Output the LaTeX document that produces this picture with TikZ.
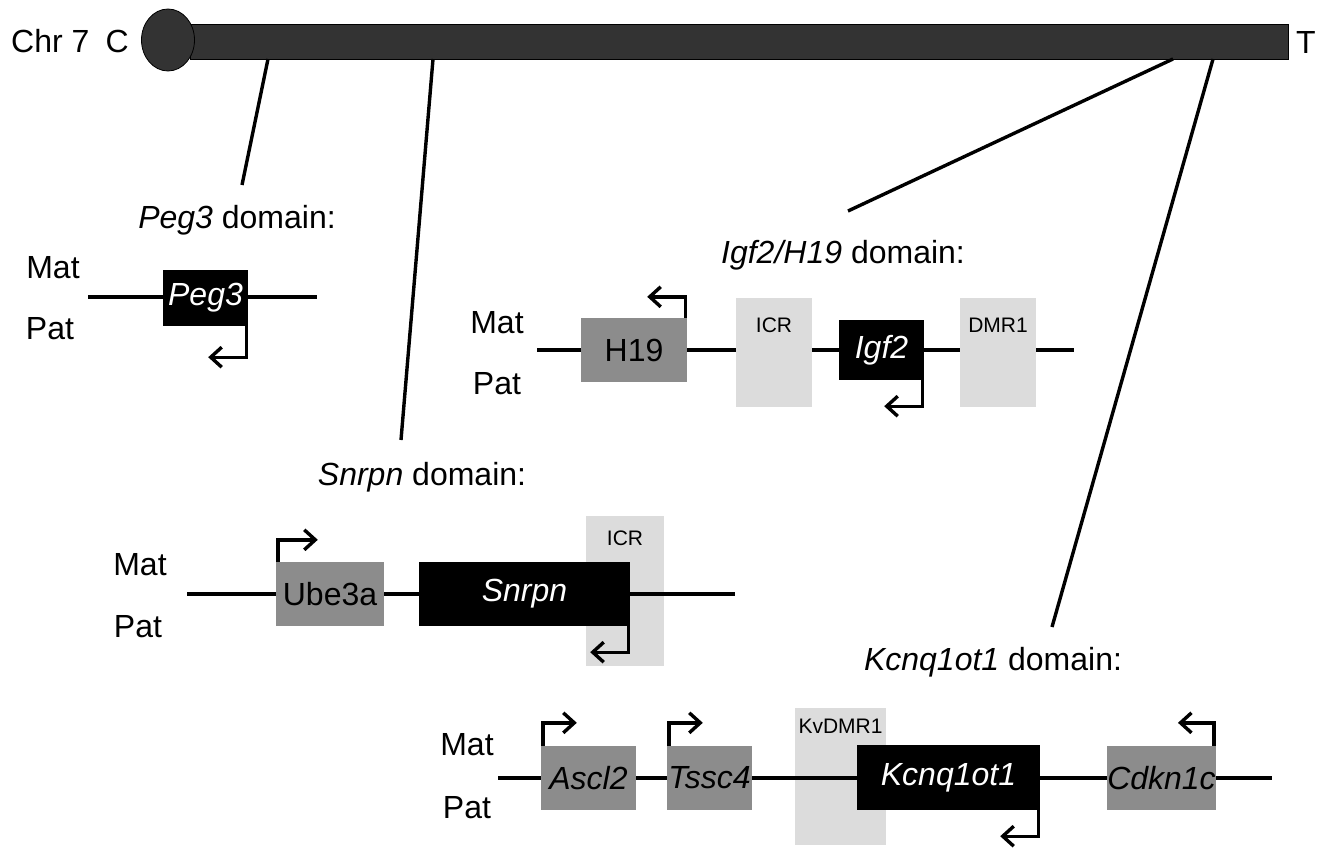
\documentclass[tikz,border=0pt]{standalone}
\usepackage{fontspec}
\setmainfont{Liberation Sans}
\usetikzlibrary{arrows.meta,shapes.geometric}
\definecolor{chrom}{HTML}{333333}
\definecolor{midgray}{HTML}{8C8C8C}
\definecolor{lightgray}{HTML}{DCDCDC}
\tikzset{
  big/.style={font=\fontsize{32}{38}\selectfont, inner sep=0pt},
  small/.style={font=\fontsize{21}{25}\selectfont, inner sep=0pt},
  genebox/.style={rectangle, inner sep=0pt, font=\fontsize{32}{38}\selectfont},
  imprinted/.style={genebox, fill=black, text=white, font=\fontsize{32}{38}\selectfont\itshape},
  expressed/.style={genebox, fill=midgray, text=black},
  expressedit/.style={expressed, font=\fontsize{32}{38}\selectfont\itshape},
  regbox/.style={rectangle, inner sep=0pt, fill=lightgray},
  locus/.style={line width=3.4pt},
  link/.style={line width=3.4pt},
  tss/.style={line width=3.4pt, -{Straight Barb[length=11pt,width=20pt,line width=3.4pt]}},
}
\begin{document}
\begin{tikzpicture}[x=1pt,y=-1pt]
\useasboundingbox (0,0) rectangle (1321,849);
% chromosome
\node[rectangle, fill=chrom, draw=black, line width=0.8pt, minimum width=1098pt, minimum height=35pt, inner sep=0pt] (bar) at (739,41.5) {};
\node[ellipse, fill=chrom, draw=black, line width=0.8pt, minimum width=53pt, minimum height=62pt, inner sep=0pt] (cen) at (168,40) {};
\node[big, anchor=west] (chr) at (11,41) {Chr 7};
\node[big, anchor=east] (cl) at (129,41) {C};
\node[big, anchor=west] (tl) at (1296,42) {T};

% domain titles
\node[big, anchor=base] (tpeg) at (237,228) {\itshape Peg3\upshape{} domain:};
\node[big, anchor=base] (tigf) at (843,263) {\itshape Igf2/H19\upshape{} domain:};
\node[big, anchor=base] (tsnr) at (422,485) {\itshape Snrpn\upshape{} domain:};
\node[big, anchor=base] (tkcn) at (993,670) {\itshape Kcnq1ot1\upshape{} domain:};

% links from chromosome
\coordinate (b1) at (268,59);
\coordinate (b2) at (433,59);
\coordinate (b3) at (1173,59);
\coordinate (b4) at (1213,59);
\coordinate (e1) at (242,185);
\coordinate (e2) at (401,440);
\coordinate (e3) at (848,211);
\coordinate (e4) at (1052,627);
\draw[link] (b1) -- (e1);
\draw[link] (b2) -- (e2);
\draw[link] (b3) -- (e3);
\draw[link] (b4) -- (e4);

% ---------- Peg3 ----------
\node[big] (m1) at (53,268) {Mat};
\node[big] (p1) at (50,329) {Pat};
\coordinate (l1a) at (88,297);
\coordinate (l1b) at (317,297);
\draw[locus] (l1a) -- (l1b);
\node[imprinted, minimum width=85pt, minimum height=56pt] (peg) at (205.5,298) {Peg3};
\draw[tss] (peg.south east) ++(-2,0) -- ++(0,31) -- ++(-38,0);

% ---------- Igf2/H19 ----------
\node[big] (m2) at (497,323) {Mat};
\node[big] (p2) at (497,384) {Pat};
\coordinate (l2a) at (537,350);
\coordinate (l2b) at (1074,350);
\draw[locus] (l2a) -- (l2b);
\node[regbox, minimum width=76pt, minimum height=109pt] (icr1) at (774,352.5) {};
\node[small, below=20pt] at (icr1.north) (icr1t) {ICR};
\node[regbox, minimum width=76pt, minimum height=109pt] (dmr) at (998,352.5) {};
\node[small, below=20pt] at (dmr.north) (dmrt) {DMR1};
\node[expressed, minimum width=106pt, minimum height=64pt] (h19) at (634,350) {H19};
\node[imprinted, minimum width=85pt, minimum height=60pt] (igf) at (881.5,350) {Igf2};
\draw[tss] (h19.north east) ++(-2,0) -- ++(0,-21) -- ++(-38,0);
\draw[tss] (igf.south east) ++(-2,0) -- ++(0,26) -- ++(-38,0);

% ---------- Snrpn ----------
\node[big] (m3) at (140,565) {Mat};
\node[big] (p3) at (138,627) {Pat};
\node[regbox, minimum width=78pt, minimum height=150pt] (icr2) at (625,591) {};
\node[small, below=15pt] at (icr2.north) (icr2t) {ICR};
\coordinate (l3a) at (187,594);
\coordinate (l3b) at (735,594);
\draw[locus] (l3a) -- (l3b);
\node[expressed, minimum width=108pt, minimum height=64pt] (ube) at (330,594) {Ube3a};
\node[imprinted, minimum width=211pt, minimum height=64pt] (snr) at (524.5,594) {Snrpn};
\draw[tss] (ube.north west) ++(2,0) -- ++(0,-22) -- ++(40,0);
\draw[tss] (snr.south east) ++(-2,0) -- ++(0,26) -- ++(-38,0);

% ---------- Kcnq1ot1 ----------
\node[big] (m4) at (467,745) {Mat};
\node[big] (p4) at (467,808) {Pat};
\node[regbox, minimum width=91pt, minimum height=137pt] (kv) at (840.5,776.5) {};
\node[small, below=11pt] at (kv.north) (kvt) {KvDMR1};
\coordinate (l4a) at (498,778);
\coordinate (l4b) at (1272,778);
\draw[locus] (l4a) -- (l4b);
\node[expressedit, minimum width=95pt, minimum height=64pt] (ascl) at (588.5,778) {Ascl2};
\node[expressedit, minimum width=85pt, minimum height=64pt] (tssc) at (709.5,778) {Tssc4};
\node[imprinted, minimum width=183pt, minimum height=65pt] (kcn) at (948.5,777.5) {Kcnq1ot1};
\node[expressedit, minimum width=107pt, minimum height=64pt] (cdk) at (1161.5,778) {Cdkn1c};
\draw[tss] (ascl.north west) ++(2,0) -- ++(0,-23) -- ++(34,0);
\draw[tss] (tssc.north west) ++(2,0) -- ++(0,-23) -- ++(34,0);
\draw[tss] (cdk.north east) ++(-2,0) -- ++(0,-23) -- ++(-36,0);
\draw[tss] (kcn.south east) ++(-2,0) -- ++(0,26) -- ++(-38,0);
\end{tikzpicture}
\end{document}
